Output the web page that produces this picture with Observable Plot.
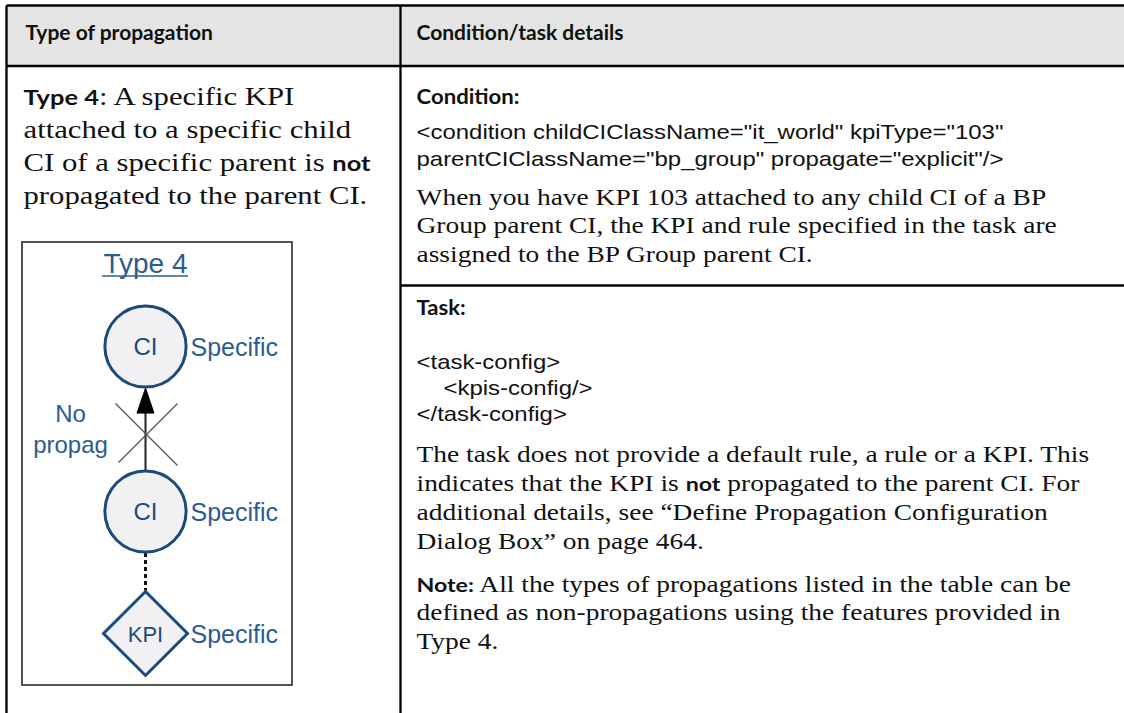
<!DOCTYPE html>
<html><head><meta charset="utf-8">
<script src="https://cdn.jsdelivr.net/npm/d3@7"></script>
<script src="https://cdn.jsdelivr.net/npm/@observablehq/plot@0.6"></script>
<style>
html,body{margin:0;padding:0;background:#fff;}
svg{display:block;}
</style></head><body>
<script>
// ---------- content ----------
const headers = ["Type of propagation", "Condition/task details"];
const typeLines = [
  "**Type 4**: A specific KPI",
  "attached to a specific child",
  "CI of a specific parent is **not**",
  "propagated to the parent CI."
];
const conditionLabel = "Condition:";
const conditionCode = [
  '<condition childCIClassName="it_world" kpiType="103"',
  'parentCIClassName="bp_group" propagate="explicit"/>'
];
const conditionText = [
  "When you have KPI 103 attached to any child CI of a BP",
  "Group parent CI, the KPI and rule specified in the task are",
  "assigned to the BP Group parent CI."
];
const taskLabel = "Task:";
const taskCode = ["<task-config>", "<kpis-config/>", "</task-config>"];
const taskIndent = [0, 1, 0];
const taskText = [
  "The task does not provide a default rule, a rule or a KPI. This",
  "indicates that the KPI is **not** propagated to the parent CI. For",
  "additional details, see \u201CDefine Propagation Configuration",
  "Dialog Box\u201D on page 464."
];
const noteText = [
  "**Note:** All the types of propagations listed in the table can be",
  "defined as non-propagations using the features provided in",
  "Type 4."
];
const diagramTitle = "Type 4";
const nodeLabels = ["CI", "CI", "KPI"];
const nodeShapes = ["circle", "circle", "diamond"];
const nodeQualifiers = ["Specific", "Specific", "Specific"];
const noPropLabel = ["No", "propag"];

// ---------- layout ----------
const W = 1124, H = 713;
const colX = 400, leftX = 6, topY = 5, headY = 65.5, sepY = 285;
const lx = 23, rx = 416;
const cx = 145, nodeY = [346, 511, 633], circleR = 40.6, diamondHalf = 42;
const boxL = 22, boxR = 292, boxT = 242, boxB = 685;
const navy = "#1b4a7c", blue = "#2b5c91", nodeFill = "#f1f1f3";
const serif = "'Liberation Serif', 'Times New Roman', serif";
const sansB = "Lato, 'Open Sans', 'Liberation Sans', sans-serif";
const sans = "'Liberation Sans', Arial, sans-serif";

// ---------- derived tables ----------
const headerRows = headers.map((t, i) => ({t, x: [25, rx][i], y: 39.5}));
const leftRows = typeLines.map((t, i) => ({t, x: lx, y: 104.5 + i * 33}));
const labelRows = [{t: conditionLabel, x: rx, y: 103}, {t: taskLabel, x: rx, y: 314}];
const codeRows = [
  ...conditionCode.map((t, i) => ({t, x: rx, y: 138 + i * 27.5})),
  ...taskCode.map((t, i) => ({t, x: rx + taskIndent[i] * 27, y: 368 + i * 26}))
];
const rightRows = [
  ...conditionText.map((t, i) => ({t, x: rx, y: 204 + i * 28.8})),
  ...taskText.map((t, i) => ({t, x: rx, y: 461 + i * 29.3})),
  ...noteText.map((t, i) => ({t, x: rx, y: 591 + i * 28.6}))
];
const nodes = nodeLabels.map((label, i) => ({label, shape: nodeShapes[i], q: nodeQualifiers[i], x: cx, y: nodeY[i]}));
const circles = nodes.filter(d => d.shape === "circle");
const diamonds = nodes.filter(d => d.shape === "diamond");

const borders = [
  {x1: leftX, y1: topY, x2: W, y2: topY},
  {x1: leftX, y1: headY, x2: W, y2: headY},
  {x1: leftX, y1: topY, x2: leftX, y2: H},
  {x1: colX, y1: topY, x2: colX, y2: H},
  {x1: colX, y1: sepY, x2: W, y2: sepY}
];

const tipY = nodeY[0] + circleR + 1, baseY = tipY + 25, halfW = 8.5;
const arrowHead = [{x: cx, y: tipY}, {x: cx + halfW, y: baseY}, {x: cx - halfW, y: baseY}, {x: cx, y: tipY}];
const shaft = [{x1: cx, y1: nodeY[1] - circleR, x2: cx, y2: baseY - 1}];
const crossC = {x: 146, y: 433};
const cross = [
  {x1: crossC.x - 31, y1: crossC.y - 30, x2: crossC.x + 31, y2: crossC.y + 32},
  {x1: crossC.x + 31, y1: crossC.y - 30, x2: crossC.x - 28, y2: crossC.y + 29}
];
const dotted = [{x1: cx, y1: nodeY[1] + circleR + 1, x2: cx, y2: nodeY[2] - diamondHalf - 1}];
const underline = [{x1: cx - 43, x2: cx + 43, y: 275.5}];

const txt = (data, opts) => Plot.text(data, {x: "x", y: "y", text: "t", textAnchor: "start", lineAnchor: "bottom", fill: "#111", ...opts});

const chart = Plot.plot({
  width: W, height: H, margin: 0,
  x: {domain: [0, W], range: [0, W], axis: null},
  y: {domain: [0, H], range: [0, H], axis: null},
  style: {background: "#fff", overflow: "visible"},
  marks: [
    Plot.rect([{}], {x1: leftX, x2: W, y1: topY, y2: headY, fill: "#e4e4e4"}),
    Plot.rect([{}], {x1: boxL, x2: boxR, y1: boxT, y2: boxB, fill: "#fff", stroke: "#2a2a2a", strokeWidth: 1.6}),
    Plot.link(borders, {x1: "x1", y1: "y1", x2: "x2", y2: "y2", stroke: "#000", strokeWidth: 2.3}),
    // diagram
    Plot.link(shaft, {x1: "x1", y1: "y1", x2: "x2", y2: "y2", stroke: "#222", strokeWidth: 2}),
    Plot.line(arrowHead, {x: "x", y: "y", fill: "#000", stroke: "#000", strokeWidth: 1}),
    Plot.link(cross, {x1: "x1", y1: "y1", x2: "x2", y2: "y2", stroke: "#555", strokeWidth: 1.3}),
    Plot.link(dotted, {x1: "x1", y1: "y1", x2: "x2", y2: "y2", stroke: "#111", strokeWidth: 3, strokeDasharray: "4,3"}),
    Plot.dot(circles, {x: "x", y: "y", r: circleR, fill: nodeFill, stroke: navy, strokeWidth: 3}),
    Plot.dot(diamonds, {x: "x", y: "y", r: diamondHalf / (0.62625 * Math.sqrt(Math.PI)), symbol: "diamond2", fill: nodeFill, stroke: navy, strokeWidth: 3}),
    Plot.text(nodes, {x: "x", y: d => d.y + 8, text: "label", textAnchor: "middle", lineAnchor: "bottom", fill: navy, fontFamily: sans, fontSize: d => d.shape === "circle" ? 24 : 22}),
    Plot.text(nodes, {x: d => d.x + 45, y: d => d.y + 9, text: "q", textAnchor: "start", lineAnchor: "bottom", fill: blue, fontFamily: sans, fontSize: 25}),
    Plot.text(noPropLabel.map((t, i) => ({t, y: 421 + i * 31})), {x: 70, y: "y", text: "t", textAnchor: "middle", lineAnchor: "bottom", fill: blue, fontFamily: sans, fontSize: 24}),
    Plot.text([diagramTitle], {x: cx, y: 272, text: d => d, textAnchor: "middle", lineAnchor: "bottom", fill: blue, fontFamily: sans, fontSize: 28}),
    Plot.ruleY(underline, {x1: "x1", x2: "x2", y: "y", stroke: blue, strokeWidth: 1.6}),
    // table text
    txt(headerRows, {fontFamily: sansB, fontWeight: 700, fontSize: 21}),
    txt(labelRows, {fontFamily: sansB, fontWeight: 700, fontSize: 20.5}),
    txt(leftRows, {fontFamily: serif, fontSize: 25.4}),
    txt(codeRows, {fontFamily: sans, fontSize: 21}),
    txt(rightRows, {fontFamily: serif, fontSize: 22.5})
  ]
});
document.body.append(chart);

// bold runs and horizontal stretch of the document text (matched by content)
const groups = [
  [headerRows, 1.0, 20], [labelRows, 1.08, 20], [leftRows, 1.21, 21],
  [codeRows, 1.14, 20], [rightRows, 1.22, 19]
];
const groupOf = new Map();
for (const [rows, k, bs] of groups) for (const r of rows) groupOf.set(r.t, {k, bs});
chart.querySelectorAll("text").forEach(t => {
  const g = groupOf.get(t.textContent);
  if (!g) return;
  const s = t.textContent;
  if (s.includes("**")) {
    t.textContent = "";
    s.split("**").forEach((part, i) => {
      if (!part) return;
      const ts = document.createElementNS("http://www.w3.org/2000/svg", "tspan");
      ts.textContent = part;
      if (i % 2) {
        ts.setAttribute("font-family", sansB);
        ts.setAttribute("font-weight", "700");
        ts.setAttribute("font-size", g.bs);
      }
      t.append(ts);
    });
  }
  const L = t.getComputedTextLength();
  t.setAttribute("textLength", (L * g.k).toFixed(1));
  t.setAttribute("lengthAdjust", "spacingAndGlyphs");
});
</script>
</body></html>
